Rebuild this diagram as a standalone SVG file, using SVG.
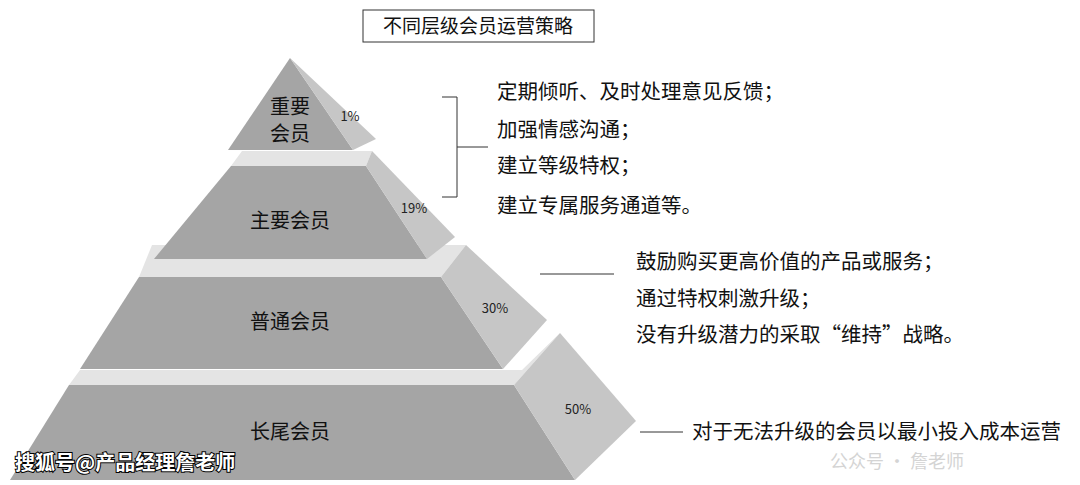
<svg xmlns="http://www.w3.org/2000/svg" width="1080" height="485" viewBox="0 0 1080 485">
<style>
.f{fill:#a5a5a5}.s{fill:#c6c6c6}.t{fill:#e4e4e4}
text{font-family:"Noto Sans CJK SC","Liberation Sans",sans-serif;fill:#111}
.lab{font-size:20px;text-anchor:middle}
.pc{font-size:13px;text-anchor:middle;fill:#222}
.tx{font-size:20.5px}
.ln{stroke:#333;stroke-width:1;fill:none}
</style>
<rect width="1080" height="485" fill="#fff"/>
<g id="title"><rect x="363" y="10" width="231" height="32" fill="#fff" stroke="#333"/><text x="478" y="33" font-size="19" text-anchor="middle">不同层级会员运营策略</text></g>
<g id="tier4">
<polygon class="t" points="80,370 522,370 560,333 514,385 69,385"/>
<polygon class="f" points="69,385 514,385 575,480 10,480"/>
<polygon class="s" points="514,385 560,333 636,421 575,480"/>
<text class="lab" x="290" y="439">长尾会员</text><text class="pc" x="578" y="414">50%</text>
</g>
<g id="tier3">
<polygon class="t" points="152,245 466,245 441,277 139,277"/>
<polygon class="f" points="139,277 441,277 503,369 80,369"/>
<polygon class="s" points="441,277 466,245 547,320 503,369"/>
<text class="lab" x="290" y="329">普通会员</text><text class="pc" x="495" y="313">30%</text>
</g>
<g id="tier2">
<polygon class="t" points="242,151 372,151 366,166 231,166"/>
<polygon class="f" points="231,166 366,166 427,259 154,259"/>
<polygon class="s" points="366,166 372,151 455,237 427,259"/>
<text class="lab" x="290" y="228">主要会员</text><text class="pc" x="414" y="213">19%</text>
</g>
<g id="tier1">
<polygon class="f" points="290,58 353,150 228,150"/>
<polygon class="s" points="290,58 376,139 353,150"/>
<text class="lab" x="290" y="114">重要</text><text class="lab" x="290" y="141">会员</text><text class="pc" x="350" y="121">1%</text>
</g>
<g id="connectors">
<path class="ln" d="M442,97 H457 V197 H442 M457,147 H488"/>
<path class="ln" d="M540,274 H614"/>
<path class="ln" d="M640,432 H683"/>
</g>
<g id="notes1">
<text class="tx" x="497" y="99">定期倾听、及时处理意见反馈；</text>
<text class="tx" x="497" y="137">加强情感沟通；</text>
<text class="tx" x="497" y="173">建立等级特权；</text>
<text class="tx" x="497" y="213">建立专属服务通道等。</text>
</g>
<g id="notes2">
<text class="tx" x="636" y="269">鼓励购买更高价值的产品或服务；</text>
<text class="tx" x="636" y="306">通过特权刺激升级；</text>
<text class="tx" x="636" y="342">没有升级潜力的采取“维持”战略。</text>
</g>
<g id="notes3"><text class="tx" x="692" y="439">对于无法升级的会员以最小投入成本运营</text></g>
<text x="830" y="468" font-size="18" style="fill:#d4d4d4">公众号 · 詹老师</text>
<text x="15" y="470" font-size="20" font-weight="bold" style="fill:#fff;stroke:#000;stroke-width:2;paint-order:stroke">搜狐号@产品经理詹老师</text>
</svg>
